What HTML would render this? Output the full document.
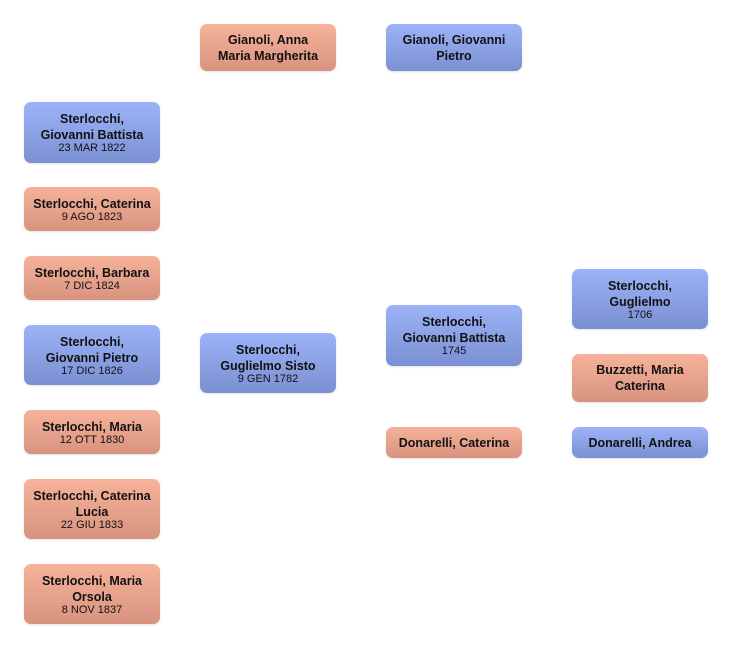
<!DOCTYPE html>
<html><head><meta charset="utf-8"><style>
html,body{margin:0;padding:0;background:#fff;}
body{width:732px;height:649px;position:relative;overflow:hidden;font-family:"Liberation Sans",Arial,sans-serif;color:#111;}
.b{position:absolute;width:136px;border-radius:7px;display:flex;flex-direction:column;justify-content:center;align-items:center;text-align:center;box-shadow:0 1px 2px rgba(0,0,0,0.12);}
.m{background:linear-gradient(#9cb3f8,#7b90d2);}
.f{background:linear-gradient(#f7b29b,#d8937f);}
.n{font-weight:bold;font-size:12.5px;line-height:16px;}
.d{font-size:11px;line-height:11px;}
</style></head><body>
<div class="b f" style="left:200px;top:24px;height:47px"><div class="n">Gianoli, Anna<br>Maria Margherita</div></div>
<div class="b m" style="left:386px;top:24px;height:47px"><div class="n">Gianoli, Giovanni<br>Pietro</div></div>

<div class="b m" style="left:24px;top:102px;height:61px"><div class="n">Sterlocchi,<br>Giovanni Battista</div><div class="d">23 MAR 1822</div></div>
<div class="b f" style="left:24px;top:187px;height:44px"><div class="n">Sterlocchi, Caterina</div><div class="d">9 AGO 1823</div></div>
<div class="b f" style="left:24px;top:256px;height:44px"><div class="n">Sterlocchi, Barbara</div><div class="d">7 DIC 1824</div></div>
<div class="b m" style="left:24px;top:325px;height:60px"><div class="n">Sterlocchi,<br>Giovanni Pietro</div><div class="d">17 DIC 1826</div></div>
<div class="b f" style="left:24px;top:410px;height:44px"><div class="n">Sterlocchi, Maria</div><div class="d">12 OTT 1830</div></div>
<div class="b f" style="left:24px;top:479px;height:60px"><div class="n">Sterlocchi, Caterina<br>Lucia</div><div class="d">22 GIU 1833</div></div>
<div class="b f" style="left:24px;top:564px;height:60px"><div class="n">Sterlocchi, Maria<br>Orsola</div><div class="d">8 NOV 1837</div></div>

<div class="b m" style="left:200px;top:333px;height:60px"><div class="n">Sterlocchi,<br>Guglielmo Sisto</div><div class="d">9 GEN 1782</div></div>

<div class="b m" style="left:386px;top:305px;height:61px"><div class="n">Sterlocchi,<br>Giovanni Battista</div><div class="d">1745</div></div>
<div class="b f" style="left:386px;top:427px;height:31px"><div class="n">Donarelli, Caterina</div></div>

<div class="b m" style="left:572px;top:269px;height:60px"><div class="n">Sterlocchi,<br>Guglielmo</div><div class="d">1706</div></div>
<div class="b f" style="left:572px;top:354px;height:48px"><div class="n">Buzzetti, Maria<br>Caterina</div></div>
<div class="b m" style="left:572px;top:427px;height:31px"><div class="n">Donarelli, Andrea</div></div>
</body></html>
